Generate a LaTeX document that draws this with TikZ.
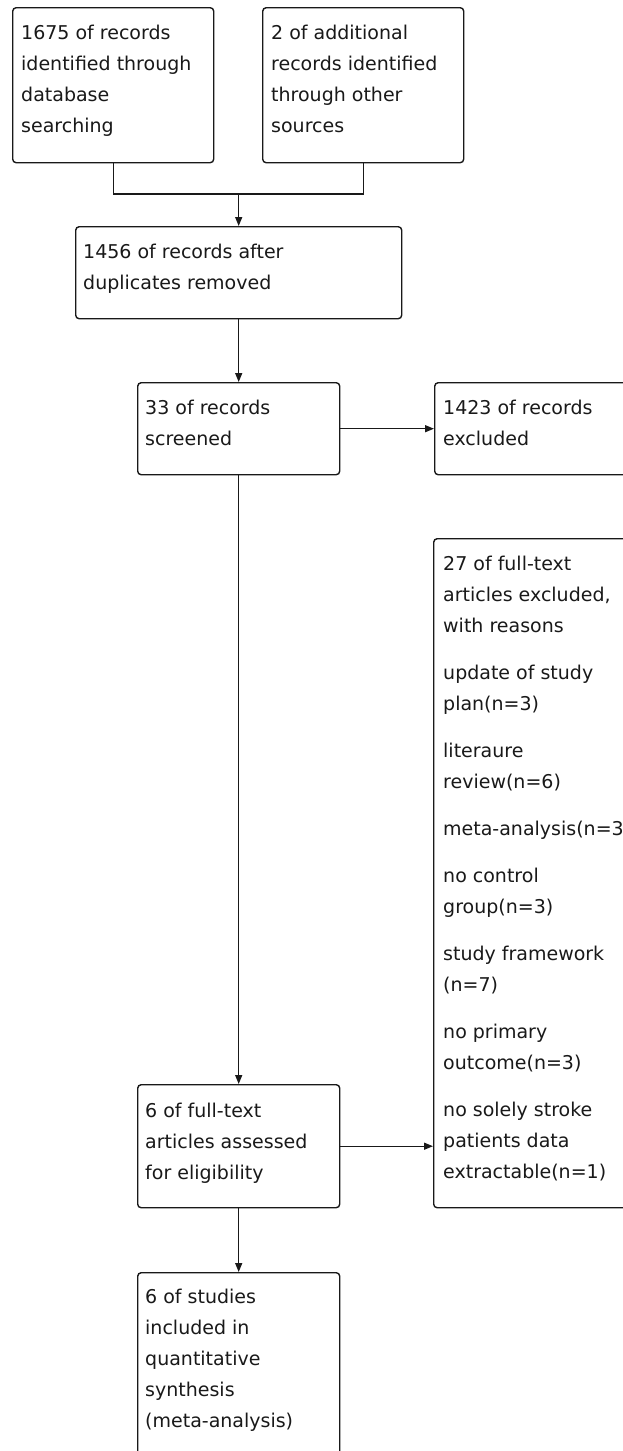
\documentclass[tikz,border=0pt]{standalone}
\usepackage{fontspec}
\setmainfont{DejaVu Sans}
\usetikzlibrary{arrows.meta,calc}
\begin{document}
\begin{tikzpicture}[x=1pt,y=-1pt,
  box/.style={draw=black!90, line width=1.4pt, rounded corners=3.5pt, inner sep=0pt, anchor=north west},
  txt/.style={inner sep=0pt, anchor=base west, text=black!90, font=\fontsize{19}{31}\selectfont},
  arr/.style={draw=black!90, line width=1.4pt, -{Triangle[length=9pt,width=7pt]}},
  con/.style={draw=black!90, line width=1.4pt}]
\useasboundingbox (0,0) rectangle (623,1451);
\fill[white] (0,0) rectangle (623,1451);
\clip (0,0) rectangle (623,1451);
% boxes
\node[box, minimum width=201pt, minimum height=155pt] (A) at (12,7) {};
\node[box, minimum width=201pt, minimum height=155pt] (B) at (262,7) {};
\node[box, minimum width=326pt, minimum height=92pt] (C) at (75,226) {};
\node[box, minimum width=202pt, minimum height=92pt] (D) at (137,382) {};
\node[box, minimum width=210pt, minimum height=92pt] (E) at (434,382) {};
\node[box, minimum width=210pt, minimum height=669pt] (G) at (433,538) {};
\node[box, minimum width=202pt, minimum height=123pt] (F) at (137,1084) {};
\node[box, minimum width=202pt, minimum height=240pt] (H) at (137,1272) {};
% texts
\node[txt] (tA) at ($(A.north west)+(9,32)$) {\parbox[t]{300pt}{1675 of records\\identified through\\database\\searching}};
\node[txt] (tB) at ($(B.north west)+(9,32)$) {\parbox[t]{300pt}{2 of additional\\records identified\\through other\\sources}};
\node[txt] (tC) at ($(C.north west)+(8,32)$) {\parbox[t]{300pt}{1456 of records after\\duplicates removed}};
\node[txt] (tD) at ($(D.north west)+(8,32)$) {\parbox[t]{300pt}{33 of records\\screened}};
\node[txt] (tE) at ($(E.north west)+(9,32)$) {\parbox[t]{300pt}{1423 of records\\excluded}};
\node[txt] (tG) at ($(G.north west)+(10,32)$) {\parbox[t]{300pt}{27 of full-text\\articles excluded,\\with reasons\\[16pt]update of study\\plan(n=3)\\[16pt]literaure\\review(n=6)\\[16pt]meta-analysis(n=3)\\[16pt]no control\\group(n=3)\\[16pt]study framework\\(n=7)\\[16pt]no primary\\outcome(n=3)\\[16pt]no solely stroke\\patients data\\extractable(n=1)}};
\node[txt] (tF) at ($(F.north west)+(8,33)$) {\parbox[t]{300pt}{6 of full-text\\articles assessed\\for eligibility}};
\node[txt] (tH) at ($(H.north west)+(8,31)$) {\parbox[t]{300pt}{6 of studies\\included in\\quantitative\\synthesis\\(meta-analysis)}};
% connectors
\coordinate (j) at (C.north |- 0,194);
\draw[con] (A.south) |- (j) -| (B.south);
\draw[arr] (j) -- (C.north);
\draw[arr] (C.south) -- (D.north);
\draw[arr] (D.east) -- (E.west |- D.east);
\draw[arr] (D.south) -- (F.north);
\draw[arr] (F.east) -- (G.west |- F.east);
\draw[arr] (F.south) -- (H.north);
\end{tikzpicture}
\end{document}
